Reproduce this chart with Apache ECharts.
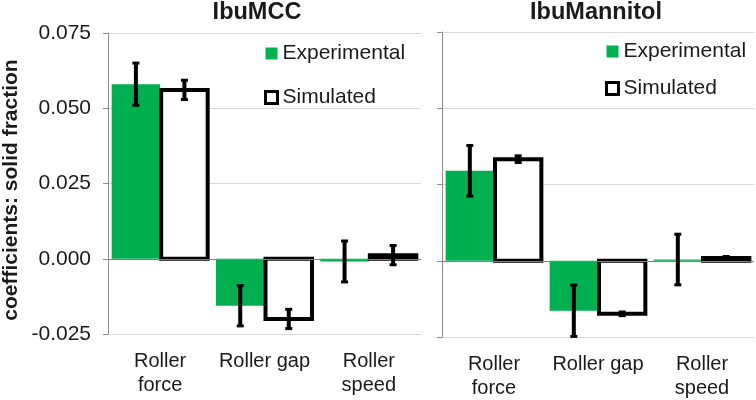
<!DOCTYPE html>
<html>
<head>
<meta charset="utf-8">
<script src="https://cdn.jsdelivr.net/npm/echarts@6/dist/echarts.min.js"></script>
<style>html,body{margin:0;padding:0;background:#fff}#c{width:756px;height:400px}</style>
</head>
<body>
<div id="c"></div>
<script>
var categories = ['Roller\nforce', 'Roller gap', 'Roller\nspeed'];
var panelTitles = ['IbuMCC', 'IbuMannitol'];
var seriesNames = ['Experimental', 'Simulated'];
var mccExp = [0.0580, -0.0156, -0.0009];
var mccExpErr = [0.0070, 0.0067, 0.0068];
var mccSim = [0.0561, -0.0200, 0.0012];
var mccSimErr = [0.0032, 0.0032, 0.0032];
var manExp = [0.0295, -0.0164, 0.0004];
var manExpErr = [0.0083, 0.0084, 0.0083];
var manSim = [0.0333, -0.0174, 0.0009];
var manSimErr = [0.0011, 0.0006, 0.0005];
var yMin = -0.025, yMax = 0.075, yStep = 0.025;

var FONT = 'Liberation Sans, Arial, sans-serif';
var GREEN = '#00b050';
var CAT_GAP = 0.07;

function barGeom(api, cat, side) {
  var c = api.coord([cat, 0]);
  var w = api.size([1, 0])[0];
  var bw = w * (1 - CAT_GAP) / 2;
  return { cx: c[0] + side * bw / 2, bw: bw, y0: c[1] };
}

function errSeries(vals, errs, xi, side) {
  var data = vals.map(function (v, i) { return [i, v - errs[i], v + errs[i]]; });
  return {
    type: 'custom', xAxisIndex: xi, yAxisIndex: xi, silent: true, z: 5,
    data: data,
    renderItem: function (params, api) {
      var cat = api.value(0);
      var g = barGeom(api, cat, side);
      var lo = api.coord([cat, api.value(1)]);
      var hi = api.coord([cat, api.value(2)]);
      var x = g.cx;
      var cap = 3.5;
      var st = { stroke: '#000', lineWidth: 4 };
      var cs = { stroke: '#000', lineWidth: 3 };
      return { type: 'group', children: [
        { type: 'line', shape: { x1: x, y1: lo[1], x2: x, y2: hi[1] }, style: st },
        { type: 'line', shape: { x1: x - cap, y1: lo[1], x2: x + cap, y2: lo[1] }, style: cs },
        { type: 'line', shape: { x1: x - cap, y1: hi[1], x2: x + cap, y2: hi[1] }, style: cs }
      ]};
    }
  };
}

function barSeries(vals, xi, side, name, style, inset, z) {
  return {
    name: name, type: 'custom', xAxisIndex: xi, yAxisIndex: xi, silent: true, z: z,
    itemStyle: side < 0 ? { color: GREEN } : { color: '#fff', borderColor: '#000', borderWidth: 3 },
    data: vals.map(function (v, i) { return [i, v]; }),
    renderItem: function (params, api) {
      var cat = api.value(0);
      var g = barGeom(api, cat, side);
      var top = api.coord([cat, api.value(1)]);
      var y1 = Math.min(g.y0, top[1]), y2 = Math.max(g.y0, top[1]);
      return { type: 'rect',
        shape: { x: g.cx - g.bw / 2 + inset, y: y1, width: g.bw - 2 * inset, height: y2 - y1 },
        style: style };
    }
  };
}

var grids = [
  { left: 106, right: 335, top: 33, bottom: 66 },
  { left: 442, right: 2, top: 32, bottom: 62 }
];
var xAxes = [0, 1].map(function (i) {
  return {
    type: 'category', gridIndex: i, data: categories,
    axisLine: { show: false }, axisTick: { show: false },
    axisLabel: { fontFamily: FONT, fontSize: 20, color: '#1a1a1a', lineHeight: 24, margin: 15, interval: 0 }
  };
});
var yAxes = [0, 1].map(function (i) {
  return {
    type: 'value', gridIndex: i, min: yMin, max: yMax, interval: yStep,
    name: i === 0 ? 'coefficients: solid fraction' : '',
    nameLocation: 'middle', nameGap: 86, nameRotate: 90,
    nameTextStyle: { fontFamily: FONT, fontSize: 21, fontWeight: 'bold', color: '#1a1a1a', padding: [0, 13, 0, 0] },
    axisLine: { show: true, lineStyle: { color: '#8c8c8c', width: 1 } },
    axisTick: { show: true, inside: false, length: 5, lineStyle: { color: '#8c8c8c' } },
    axisLabel: { show: i === 0, fontFamily: FONT, fontSize: 21, color: '#1a1a1a', margin: 17,
      formatter: function (v) { return v.toFixed(3); } },
    splitLine: { show: true, lineStyle: { color: '#d9d9d9', width: 1 } }
  };
});

var series = [];
var sets = [[mccExp, mccExpErr, mccSim, mccSimErr], [manExp, manExpErr, manSim, manSimErr]];
sets.forEach(function (s, i) {
  var exp = barSeries(s[0], i, -1, seriesNames[0], { fill: GREEN }, 0, 3);
  exp.markLine = { silent: true, symbol: 'none', label: { show: false },
    lineStyle: { color: '#7f7f7f', width: 1, type: 'solid' }, data: [{ yAxis: 0 }] };
  series.push(exp);
  series.push(barSeries(s[2], i, 1, seriesNames[1],
    { fill: '#fff', stroke: '#000', lineWidth: 4, lineJoin: 'miter' }, 1, 4));
  series.push(errSeries(s[0], s[1], i, -1));
  series.push(errSeries(s[2], s[3], i, 1));
});

var legends = [[264, 43, 23], [605, 41, 16]].map(function (p) {
  return {
    left: p[0], top: p[1], orient: 'vertical', itemGap: p[2], itemWidth: 12, itemHeight: 12,
    selectedMode: false, icon: 'rect', padding: 0,
    textStyle: { fontFamily: FONT, fontSize: 21, color: '#1a1a1a' },
    data: [
      { name: 'Experimental', itemStyle: { color: GREEN, borderWidth: 0 } },
      { name: 'Simulated', itemStyle: { color: '#fff', borderColor: '#000', borderWidth: 3 } }
    ]
  };
});

var titles = [[252, -4], [591, -4]].map(function (p, i) {
  return {
    text: panelTitles[i], left: p[0], top: p[1], textAlign: 'center',
    textStyle: { fontFamily: FONT, fontSize: 23.5, fontWeight: 'bold', color: '#1a1a1a' }
  };
});

var chart = echarts.init(document.getElementById('c'), null, { renderer: 'canvas' });
chart.setOption({
  animation: false, backgroundColor: '#fff',
  title: titles, legend: legends, grid: grids, xAxis: xAxes, yAxis: yAxes, series: series
});
</script>
</body>
</html>
